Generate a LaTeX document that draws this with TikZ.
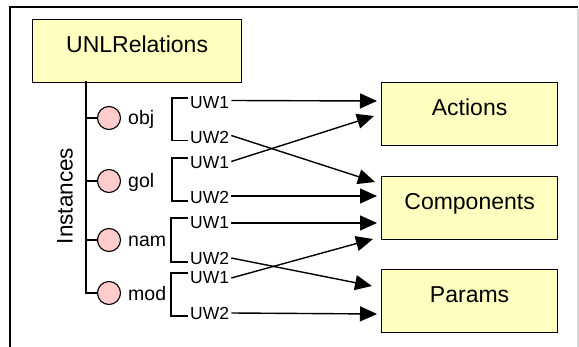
\documentclass[tikz,border=0pt]{standalone}
\usepackage{fontspec}
\setmainfont{Liberation Sans}
\usetikzlibrary{arrows.meta,calc}
\definecolor{boxyellow}{RGB}{255,255,192}
\definecolor{circpink}{RGB}{255,204,204}
\definecolor{shadowgray}{RGB}{215,215,215}
\begin{document}
\begin{tikzpicture}[x=1pt,y=-1pt,
  bigbox/.style={draw,line width=1.2pt,fill=boxyellow,inner sep=0pt,
    text height=33pt,text depth=30pt,minimum width=176pt,
    font=\fontsize{23}{23}\selectfont,anchor=north west},
  relcirc/.style={circle,draw,line width=1.1pt,fill=circpink,minimum size=23pt,inner sep=0pt},
  rellabel/.style={anchor=west,inner sep=0pt,font=\fontsize{19.5}{20}\selectfont},
  uwlabel/.style={anchor=west,inner sep=2pt,font=\fontsize{17.5}{18}\selectfont},
  tree/.style={line width=1.2pt},
  link/.style={line width=1.4pt,-{Triangle[length=17pt,width=15pt]}}
]
\useasboundingbox (0,0) rectangle (579,347);
% frame
\draw[shadowgray,line width=1.2pt] (578,9) -- (578,347);
\draw[line width=1.3pt] (10,347) -- (10,7) -- (578,7);

% boxes
\node[bigbox,minimum width=209pt] (unl) at (32,19) {UNLRelations};
\node[bigbox] (act) at (381,82) {Actions};
\node[bigbox] (comp) at (381,176) {Components};
\node[bigbox] (par) at (381,269) {Params};

% instances label
\node[rotate=90,font=\fontsize{22.5}{23}\selectfont,inner sep=0pt] (inst) at (65,196) {Instances};

% circles
\node[relcirc] (c1) at (109,118) {};
\node[relcirc] (c2) at (109,181) {};
\node[relcirc] (c3) at (109,240) {};
\node[relcirc] (c4) at (109,293) {};
\node[rellabel] (l1) at (128,119) {obj};
\node[rellabel] (l2) at (128,182) {gol};
\node[rellabel] (l3) at (128,241) {nam};
\node[rellabel] (l4) at (128,294) {mod};

% spine
\coordinate (sp) at (86,81);
\draw[tree] (sp) |- (c4.west);
\foreach \c in {c1,c2,c3} \draw[tree] (\c.west -| sp) -- (\c.west);

% UW labels
\node[uwlabel] (o1) at (188,102.5) {UW1};
\node[uwlabel] (o2) at (188,137.5) {UW2};
\node[uwlabel] (g1) at (188,162.5) {UW1};
\node[uwlabel] (g2) at (188,197) {UW2};
\node[uwlabel] (n1) at (188,223) {UW1};
\node[uwlabel] (n2) at (188,258) {UW2};
\node[uwlabel] (m1) at (188,278) {UW1};
\node[uwlabel] (m2) at (188,313) {UW2};

% brackets
\draw[tree] ([yshift=4.5pt]o1.west) -- ++(-16,0) |- ([yshift=-3pt]o2.west);
\draw[tree] ([yshift=4.5pt]g1.west) -- ++(-16,0) |- ([yshift=-4pt]g2.west);
\draw[tree] ([yshift=5pt]n1.west) -- ++(-17,0) |- ([yshift=-4pt]n2.west);
\draw[tree] ([yshift=5pt]m1.west) -- ++(-17,0) |- ([yshift=-3pt]m2.west);

% arrow targets
\coordinate (tA1) at (377,101);
\coordinate (tA2) at (374,116);
\coordinate (tC1) at (375,182);
\coordinate (tC2) at (377,196);
\coordinate (tC3) at (377,223);
\coordinate (tC4) at (373,239);
\coordinate (tP1) at (372,286);
\coordinate (tP2) at (377,314);

% links
\draw[link] ([yshift=2pt]o1.east) -- (tA1);
\draw[link] ([yshift=2pt]o2.east) -- (tC1);
\draw[link] ([yshift=1pt]g1.east) -- (tA2);
\draw[link] ([yshift=1pt]g2.east) -- (tC2);
\draw[link] (n1.east) -- (tC3);
\draw[link] (n2.east) -- (tP1);
\draw[link] (m1.east) -- (tC4);
\draw[link] (m2.east) -- (tP2);
\end{tikzpicture}
\end{document}
